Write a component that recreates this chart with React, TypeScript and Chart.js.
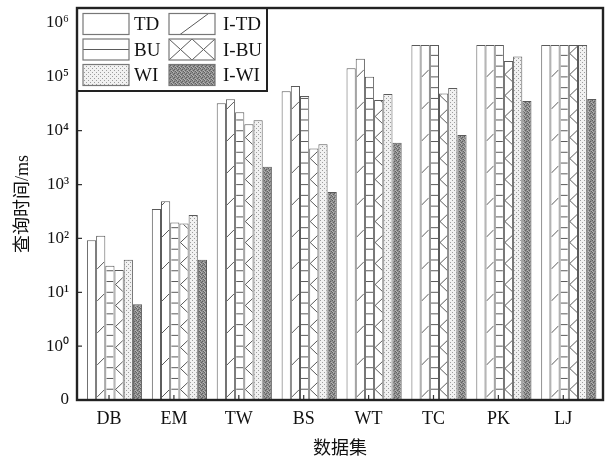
import React, { useEffect, useRef } from 'react';
import { Chart, registerables } from 'chart.js';

Chart.register(...registerables);

// ---------- data ----------
const categories = ['DB', 'EM', 'TW', 'BS', 'WT', 'TC', 'PK', 'LJ'];
const seriesNames = ['TD', 'I-TD', 'BU', 'I-BU', 'WI', 'I-WI'];
const tdValues = [93, 352, 32500, 54000, 145000, 390000, 390000, 390000];
const itdValues = [112, 490, 38500, 68000, 216000, 390000, 390000, 390000];
const buValues = [31, 198, 22000, 44000, 101000, 390000, 390000, 390000];
const ibuValues = [26, 190, 13200, 4700, 37000, 49000, 198000, 390000];
const wiValues = [40, 272, 15700, 5600, 48000, 62000, 239000, 390000];
const iwiValues = [6, 40, 2150, 730, 6000, 8300, 35800, 39000];
const yTickValues = [0.1, 1, 10, 100, 1000, 10000, 100000, 1000000];
const yTickLabels = ['0', '10⁰', '10¹', '10²', '10³', '10⁴', '10⁵', '10⁶'];
const xTitle = '数据集';
const yTitle = '查询时间/ms';

const seriesValues = [tdValues, itdValues, buValues, ibuValues, wiValues, iwiValues];
const hatchKinds = ['none', 'diag', 'hlines', 'cross', 'none', 'none'];

const SERIF = '"Liberation Serif", "Times New Roman", "Noto Sans CJK SC", serif';
const EDGE = '#5a5a5a';
const FRAME = '#222';

function makePattern(size: number, draw: (g: CanvasRenderingContext2D) => void) {
  const c = document.createElement('canvas');
  c.width = size;
  c.height = size;
  const g = c.getContext('2d') as CanvasRenderingContext2D;
  draw(g);
  return g.createPattern(c, 'repeat') as CanvasPattern;
}

function drawHatch(
  ctx: CanvasRenderingContext2D,
  kind: string,
  x0: number,
  x1: number,
  top: number,
  base: number,
  legend: boolean
) {
  if (kind === 'none') return;
  ctx.save();
  ctx.beginPath();
  ctx.rect(x0, top, x1 - x0, base - top);
  ctx.clip();
  ctx.strokeStyle = EDGE;
  ctx.lineWidth = 1;
  ctx.beginPath();
  const w = x1 - x0;
  const h = base - top;
  if (kind === 'diag') {
    if (legend) {
      ctx.moveTo(x0 + 0.24 * w, base);
      ctx.lineTo(x0 + 0.86 * w, top);
    } else {
      for (let y = base - 3; y > top - 40; y -= 32) {
        ctx.moveTo(x0, y);
        ctx.lineTo(x1, y - w);
      }
    }
  } else if (kind === 'hlines') {
    if (legend) {
      ctx.moveTo(x0, top + h / 2);
      ctx.lineTo(x1, top + h / 2);
    } else {
      for (let y = base - 10.77; y > top; y -= 10.77) {
        ctx.moveTo(x0, y);
        ctx.lineTo(x1, y);
      }
    }
  } else if (kind === 'cross') {
    if (legend) {
      const cw = w / 2;
      for (let k = 0; k < 2; k++) {
        const a = x0 + k * cw;
        ctx.moveTo(a, top);
        ctx.lineTo(a + cw, base);
        ctx.moveTo(a + cw, top);
        ctx.lineTo(a, base);
      }
    } else {
      const cw = 22;
      const ch = 21;
      const cx = x0;
      for (let y = base; y > top - ch; y -= ch) {
        ctx.moveTo(cx - cw / 2, y);
        ctx.lineTo(cx + cw / 2, y - ch);
        ctx.moveTo(cx + cw / 2, y);
        ctx.lineTo(cx - cw / 2, y - ch);
      }
    }
  }
  ctx.stroke();
  ctx.restore();
}

export default function App() {
  const canvasRef = useRef<HTMLCanvasElement | null>(null);

  useEffect(() => {
    const canvas = canvasRef.current;
    if (!canvas) return;

    const dotPattern = makePattern(4, (g) => {
      g.fillStyle = '#f1f1f1';
      g.fillRect(0, 0, 4, 4);
      g.fillStyle = '#9c9c9c';
      g.fillRect(0, 0, 1, 1);
      g.fillRect(2, 2, 1, 1);
    });
    const darkPattern = makePattern(4, (g) => {
      g.fillStyle = '#8e8e8e';
      g.fillRect(0, 0, 4, 4);
      g.fillStyle = '#606060';
      g.fillRect(0, 0, 1, 1);
      g.fillRect(2, 1, 1, 1);
      g.fillRect(1, 2, 1, 1);
      g.fillRect(3, 3, 1, 1);
      g.fillStyle = '#b4b4b4';
      g.fillRect(1, 0, 1, 1);
      g.fillRect(3, 2, 1, 1);
      g.fillRect(0, 3, 1, 1);
    });
    const backgrounds: (string | CanvasPattern)[] = ['#ffffff', '#ffffff', '#ffffff', '#ffffff', dotPattern, darkPattern];

    const decor = {
      id: 'decor',
      afterDatasetsDraw(chart: any) {
        const ctx = chart.ctx as CanvasRenderingContext2D;
        chart.data.datasets.forEach((_ds: any, i: number) => {
          const meta = chart.getDatasetMeta(i);
          meta.data.forEach((el: any) => {
            const p = el.getProps(['x', 'y', 'base', 'width'], true);
            const x0 = p.x - p.width / 2 + 1;
            const x1 = p.x + p.width / 2 - 1;
            drawHatch(ctx, hatchKinds[i], x0, x1, p.y + 1, p.base, false);
          });
        });
      },
      afterDraw(chart: any) {
        const ctx = chart.ctx as CanvasRenderingContext2D;
        const { left, right, top, bottom } = chart.chartArea;
        const xs = chart.scales.x;
        const ys = chart.scales.y;
        ctx.save();
        // inner tick marks
        ctx.strokeStyle = '#333';
        ctx.lineWidth = 1.2;
        ctx.beginPath();
        ys.ticks.forEach((t: any) => {
          const py = ys.getPixelForValue(t.value);
          ctx.moveTo(left, py);
          ctx.lineTo(left + 5, py);
        });
        xs.ticks.forEach((_t: any, i: number) => {
          const px = xs.getPixelForTick(i) - 5.5;
          ctx.moveTo(px, bottom);
          ctx.lineTo(px, bottom - 5);
        });
        ctx.stroke();

        // legend box (inside plot area, top-left)
        const lx0 = left;
        const ly0 = top;
        const lx1 = left + 190;
        const ly1 = top + 83;
        ctx.fillStyle = '#ffffff';
        ctx.fillRect(lx0, ly0, lx1 - lx0, ly1 - ly0);
        const rowsY = [top + 5.5, top + 31, top + 56.5];
        const swX = [left + 6, left + 92];
        const txX = [left + 57, left + 146];
        const swW = 46;
        const swH = 21;
        ctx.font = '19px ' + SERIF;
        ctx.textBaseline = 'middle';
        ctx.textAlign = 'left';
        seriesNames.forEach((name, i) => {
          const col = i % 2;
          const row = Math.floor(i / 2);
          const sx = swX[col];
          const sy = rowsY[row];
          ctx.fillStyle = backgrounds[i] as any;
          ctx.fillRect(sx, sy, swW, swH);
          drawHatch(ctx, hatchKinds[i], sx, sx + swW, sy, sy + swH, true);
          ctx.strokeStyle = '#777';
          ctx.lineWidth = 1.2;
          ctx.strokeRect(sx, sy, swW, swH);
          ctx.fillStyle = '#111';
          ctx.fillText(name, txX[col], sy + swH / 2 + 1.5);
        });
        ctx.strokeStyle = FRAME;
        ctx.lineWidth = 2;
        ctx.strokeRect(lx0, ly0, lx1 - lx0, ly1 - ly0);

        // plot frame
        ctx.lineWidth = 2.4;
        ctx.strokeRect(left, top, right - left, bottom - top);
        ctx.restore();
      },
    };

    const chart = new Chart(canvas, {
      type: 'bar',
      data: {
        labels: categories,
        datasets: seriesNames.map((name, i) => ({
          label: name,
          data: seriesValues[i],
          backgroundColor: backgrounds[i] as any,
          borderColor: EDGE,
          borderWidth: 1,
          categoryPercentage: 0.85,
          barPercentage: 1,
        })),
      },
      options: {
        animation: false,
        responsive: false,
        layout: { padding: { left: 0, right: 3, top: 8, bottom: 0 } },
        plugins: {
          legend: { display: false },
          tooltip: { enabled: false },
        },
        scales: {
          x: {
            type: 'category',
            grid: { display: false, drawTicks: false },
            border: { display: false },
            afterBuildTicks: (s: any) => {
              // category value window: slightly more room on the left than on the right
              s._startValue = -0.578;
              s._valueRange = 8.105;
            },
            ticks: {
              color: '#111',
              font: { family: SERIF, size: 18 },
              padding: 8,
              labelOffset: -5.5,
              maxRotation: 0,
              autoSkip: false,
            },
            title: {
              display: true,
              text: xTitle,
              color: '#111',
              font: { family: SERIF, size: 18 },
              padding: { top: 0, bottom: 5 },
            },
            afterFit: (s: any) => {
              s.height = 65;
              s.paddingLeft = 0;
              s.paddingRight = 0;
            },
          },
          y: {
            type: 'logarithmic',
            min: 0.1,
            max: 1900000,
            grid: { display: false, drawTicks: false },
            border: { display: false },
            afterBuildTicks: (s: any) => {
              s.ticks = yTickValues.map((v) => ({ value: v }));
            },
            ticks: {
              color: '#111',
              font: { family: SERIF, size: 17 },
              padding: 8,
              autoSkip: false,
              callback: (v: any, idx: number) => {
                const k = yTickValues.indexOf(Number(v));
                return yTickLabels[k >= 0 ? k : idx];
              },
            },
            title: {
              display: true,
              text: yTitle,
              color: '#111',
              font: { family: SERIF, size: 18 },
              padding: { top: 12, bottom: 0 },
            },
            afterFit: (s: any) => {
              s.width = 77;
              s.paddingTop = 0;
              s.paddingBottom = 0;
            },
          },
        },
      } as any,
      plugins: [decor],
    });

    return () => {
      chart.destroy();
    };
  }, []);

  return (
    <div style={{ position: 'absolute', left: 0, top: 0, width: 606, height: 465, background: '#fff' }}>
      <canvas ref={canvasRef} width={606} height={465} style={{ display: 'block' }} />
    </div>
  );
}
